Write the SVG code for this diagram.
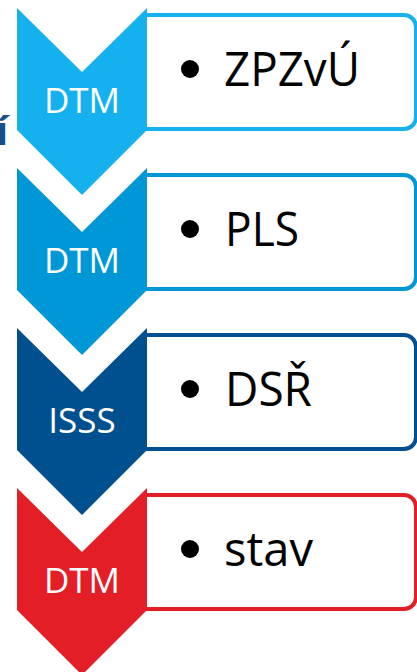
<svg xmlns="http://www.w3.org/2000/svg" width="417" height="672" viewBox="0 0 417 672">
<style>
.box{fill:#fff;stroke-width:4}
.lbl{font-family:"Open Sans","Liberation Sans",sans-serif;font-size:35px;fill:#fff;text-anchor:middle}
.item{font-family:"Open Sans","Liberation Sans",sans-serif;font-size:47px;fill:#000}
.c1{fill:#15B1EF}.s1{stroke:#15B1EF}
.c2{fill:#0097D6}.s2{stroke:#0097D6}
.c3{fill:#004F8F}.s3{stroke:#004F8F}
.c4{fill:#E31E26}.s4{stroke:#E31E26}
</style>
<defs>
<path id="chev" d="M17,8 L82,72 L147,8 V130 L82,195 L17,130 Z"/>
<path id="frame" d="M145,15 H404 A12,12 0 0 1 416,27 V117 A12,12 0 0 1 404,129 H145 Z"/>
</defs>
<text x="-4" y="145" font-family="Open Sans, Liberation Sans, sans-serif" font-size="40" font-weight="bold" fill="#17508C">í</text>
<g id="step1">
<use href="#frame" class="box s1"/>
<use href="#chev" class="c1"/>
<text x="82" y="113" class="lbl">DTM</text>
<circle cx="190" cy="69" r="9"/>
<text x="224" y="86" class="item" textLength="136" lengthAdjust="spacingAndGlyphs">ZPZvÚ</text>
</g>
<g id="step2" transform="translate(0,160)">
<use href="#frame" class="box s2"/>
<use href="#chev" class="c2"/>
<text x="82" y="113" class="lbl">DTM</text>
<circle cx="190" cy="69" r="9"/>
<text x="225" y="86" class="item" textLength="74" lengthAdjust="spacingAndGlyphs">PLS</text>
</g>
<g id="step3" transform="translate(0,320)">
<use href="#frame" class="box s3"/>
<use href="#chev" class="c3"/>
<text x="82" y="113" class="lbl">ISSS</text>
<circle cx="190" cy="69" r="9"/>
<text x="225" y="86" class="item" textLength="87" lengthAdjust="spacingAndGlyphs">DSŘ</text>
</g>
<g id="step4" transform="translate(0,480)">
<use href="#frame" class="box s4"/>
<use href="#chev" class="c4"/>
<text x="82" y="113" class="lbl">DTM</text>
<circle cx="190" cy="69" r="9"/>
<text x="224" y="86" class="item" textLength="89" lengthAdjust="spacingAndGlyphs">stav</text>
</g>
</svg>
